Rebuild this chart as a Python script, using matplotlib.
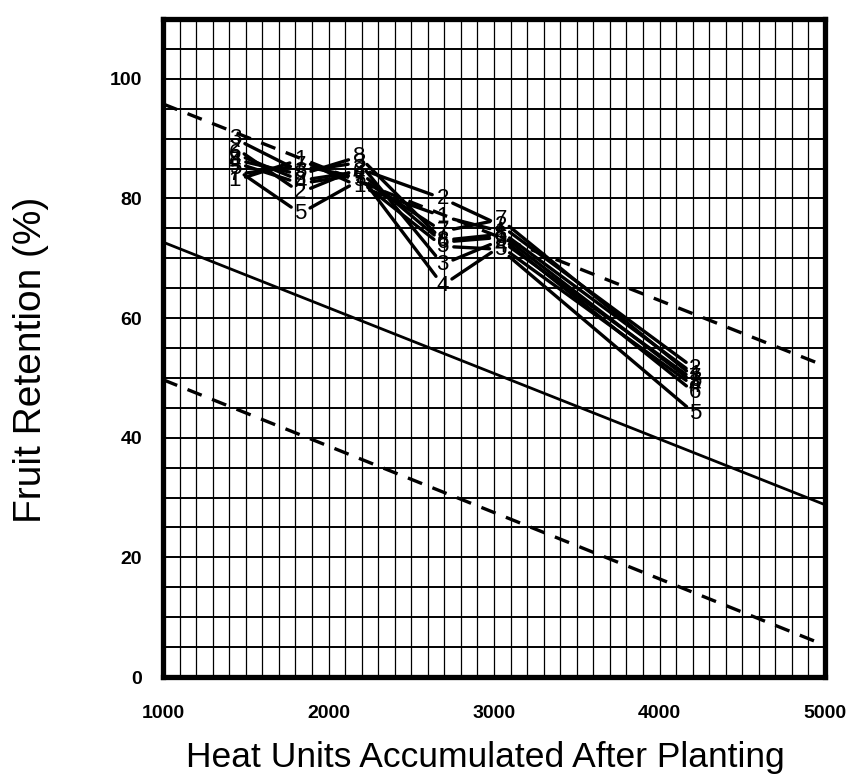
"""Fruit retention vs heat units after planting, with reference band (scanned-figure redraw)."""
import matplotlib

matplotlib.use("Agg")
import matplotlib.pyplot as plt
import numpy as np

FONT = ["Liberation Sans", "DejaVu Sans"]

# sampling dates (heat units) and fruit retention (%) per plot number
heat_units = [1435, 1830, 2185, 2690, 3040, 4215]
series_ids = ["1", "2", "3", "4", "5", "6", "7", "8"]
retention = [
    [83.0, 86.5, 82.0, 77.0, 74.5, 50.5],
    [88.5, 81.0, 85.0, 80.0, 75.5, 51.5],
    [90.0, 84.5, 86.0, 69.0, 73.0, 49.5],
    [86.0, 82.5, 84.0, 65.5, 72.0, 48.5],
    [85.0, 77.5, 83.0, 72.0, 71.5, 44.0],
    [87.5, 83.0, 84.5, 72.7, 73.5, 47.5],
    [84.0, 85.5, 83.5, 74.5, 76.5, 50.0],
    [86.5, 84.0, 87.0, 73.0, 74.0, 49.0],
]

# reference line (solid) and its +/- band (dashed), end points at 1000 and 5000
ref_x = [1000, 5000]
ref_mid = [72.7, 28.8]
ref_upper = [95.8, 52.0]
ref_lower = [49.7, 5.3]

x_ticks = [1000, 2000, 3000, 4000, 5000]
y_ticks = [0, 20, 40, 60, 80, 100]

plt.rcParams.update(
    {
        "font.family": FONT,
        "figure.facecolor": "white",
        "axes.facecolor": "white",
        "lines.scale_dashes": False,
    }
)


def main() -> None:
    fig = plt.figure(figsize=(8.51, 7.8), dpi=100)
    ax = fig.add_axes([163 / 851, 1 - 677 / 780, 662 / 851, 658 / 780])
    ax.set_xlim(1000, 5000)
    ax.set_ylim(0, 110)

    # graph-paper grid
    ax.set_xticks(np.arange(1000, 5001, 100), minor=True)
    ax.set_yticks(np.arange(0, 111, 5), minor=True)
    ax.set_xticks(x_ticks, [str(t) for t in x_ticks])
    ax.set_yticks(y_ticks, [str(t) for t in y_ticks])
    ax.xaxis.grid(True, which="both", color="black", linewidth=0.9)
    ax.yaxis.grid(True, which="both", color="black", linewidth=1.4)
    ax.set_axisbelow(True)
    ax.tick_params(which="both", length=0)
    ax.tick_params(axis="x", pad=20, labelsize=14)
    ax.tick_params(axis="y", pad=15, labelsize=14)
    for lab in ax.get_xticklabels() + ax.get_yticklabels():
        lab.set_fontweight("bold")
    for sp in ax.spines.values():
        sp.set_linewidth(3.8)
        sp.set_zorder(5)

    ax.plot(ref_x, ref_mid, color="black", linewidth=2.0, zorder=3)
    for yy in (ref_upper, ref_lower):
        ax.plot(ref_x, yy, color="black", linewidth=2.4, dashes=(11, 8), zorder=3)

    for sid, vals in zip(series_ids, retention):
        for i in range(len(heat_units) - 1):
            ax.annotate(
                "",
                xy=(heat_units[i + 1], vals[i + 1]),
                xytext=(heat_units[i], vals[i]),
                arrowprops=dict(arrowstyle="-", color="black", lw=2.4, shrinkA=8, shrinkB=8),
                zorder=4,
            )
        for x, y in zip(heat_units, vals):
            ax.text(x, y, sid, ha="center", va="center", fontsize=16, color="black", zorder=4)

    fig.text(485 / 851, 1 - 757 / 780, "Heat Units Accumulated After Planting",
             ha="center", va="center", fontsize=25.5)
    fig.text(31 / 851, 1 - 360 / 780, "Fruit Retention (%)", rotation=90,
             ha="center", va="center", fontsize=28)

    fig.savefig("out.png", dpi=100)
    plt.close(fig)


if __name__ == "__main__":
    main()
